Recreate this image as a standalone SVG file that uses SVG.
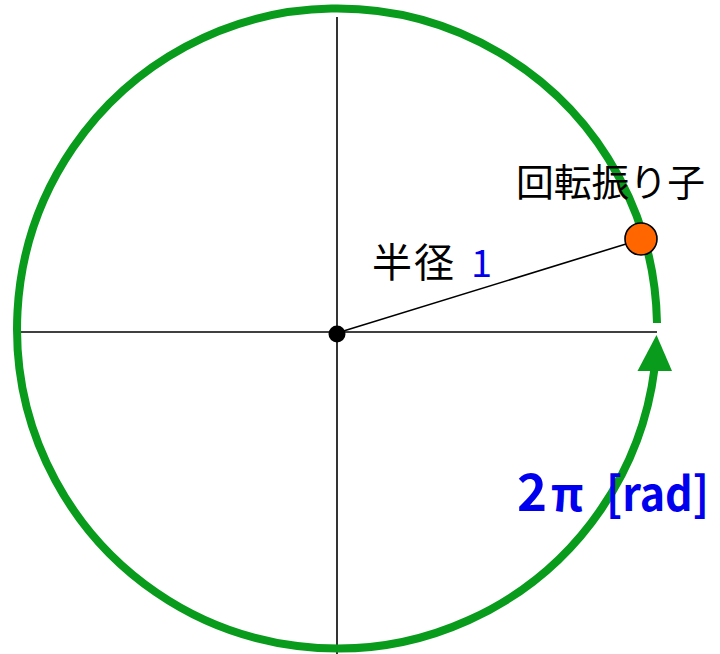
<svg xmlns="http://www.w3.org/2000/svg" width="720" height="654" viewBox="0 0 720 654">
<style>
.axis{stroke:#000;stroke-width:1.6;fill:none}
.orbit{stroke:#089B1C;stroke-width:8;fill:none}
.lbl{font-family:"Noto Sans CJK JP","Liberation Sans",sans-serif;fill:#000}
.blue{font-family:"Noto Sans CJK JP","Liberation Sans",sans-serif;fill:#0000EE}
.big{font-weight:bold}
</style>
<rect width="720" height="654" fill="#fff"/>
<g id="connectors">
<line class="axis" x1="337" y1="17" x2="337" y2="654"/>
<line class="axis" x1="20" y1="332" x2="657" y2="332"/>
<line class="axis" x1="337" y1="333" x2="626" y2="244"/>
<path class="orbit" d="M 657,323 A 320 320 0 1 0 654.6,368"/>
<polygon points="656.5,335 637.5,371 672,371" fill="#089B1C"/>
</g>
<g id="center">
<circle cx="337" cy="334" r="8.5" fill="#000"/>
</g>
<g id="pendulum">
<circle cx="641" cy="239" r="16" fill="#FF6600" stroke="#000" stroke-width="1.6"/>
</g>
<g id="label-pendulum">
<text class="lbl" x="516" y="196" font-size="38" textLength="189" lengthAdjust="spacingAndGlyphs">回転振り子</text>
</g>
<g id="label-radius">
<text class="lbl" x="372" y="277" font-size="40" letter-spacing="2">半径</text>
<text class="blue" x="471" y="277" font-size="38">1</text>
</g>
<g id="label-angle">
<text class="blue big" x="517" y="511" font-size="51">2</text>
<text class="blue big" x="551" y="511" font-size="46">π</text>
<text class="blue big" x="606" y="511" font-size="47" textLength="103" lengthAdjust="spacingAndGlyphs">[rad]</text>
</g>
</svg>
